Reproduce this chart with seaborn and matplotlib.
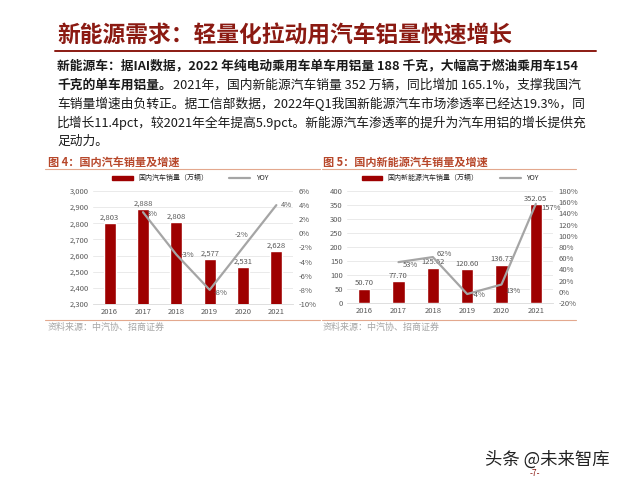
import numpy as np
import pandas as pd
import matplotlib
matplotlib.use("Agg")
import matplotlib.pyplot as plt
import matplotlib.lines as mlines
import matplotlib.patches as mpatches
import seaborn as sns

# data
years = ['2016', '2017', '2018', '2019', '2020', '2021']
car_sales = [2803, 2888, 2808, 2577, 2531, 2628]
car_yoy = [np.nan, 3, -3, -8, -2, 4]
nev_sales = [50.70, 77.70, 125.62, 120.60, 136.73, 352.05]
nev_yoy = [np.nan, 53, 62, -4, 13, 157]

sns.set_theme(style="white")
plt.rcParams['font.family'] = ['Noto Sans CJK SC', 'DejaVu Sans']

RED = '#9E0000'
GRAY_LINE = '#A5A5A5'
TXT = '#595959'
TITLE_RED = '#8B1A12'
SUB_RED = '#B7472A'
SALMON = '#E3A88E'

fig = plt.figure(figsize=(6.4, 4.8), dpi=100)
W, H = 640, 480


def fx(px):
    return px / W


def fy(py):
    return 1 - py / H


# header
fig.text(fx(57), fy(36), '新能源需求：轻量化拉动用汽车铝量快速增长', fontsize=16.4,
         fontweight='bold', color=TITLE_RED, va='center', ha='left')
fig.add_artist(mlines.Line2D([fx(55), fx(596)], [fy(51), fy(51)], color=TITLE_RED, lw=1.4))

body = 9.2
fig.text(fx(57), fy(66), '新能源车：据IAI数据，2022 年纯电动乘用车单车用铝量 188 千克，大幅高于燃油乘用车154',
         fontsize=body, fontweight='bold', color='#1a1a1a', va='center')
t_bold = fig.text(fx(57), fy(85), '千克的单车用铝量。', fontsize=body, fontweight='bold',
                  color='#1a1a1a', va='center')
renderer = fig.canvas.get_renderer()
bb = t_bold.get_window_extent(renderer)
fig.text(bb.x1 / W + 0.002, fy(85), '2021年，国内新能源汽车销量 352 万辆，同比增加 165.1%，支撑我国汽',
         fontsize=body, color='#1a1a1a', va='center')
fig.text(fx(57), fy(104), '车销量增速由负转正。据工信部数据，2022年Q1我国新能源汽车市场渗透率已经达19.3%，同',
         fontsize=body, color='#1a1a1a', va='center')
fig.text(fx(57), fy(123), '比增长11.4pct，较2021年全年提高5.9pct。新能源汽车渗透率的提升为汽车用铝的增长提供充',
         fontsize=body, color='#1a1a1a', va='center')
fig.text(fx(57), fy(141), '足动力。', fontsize=body, color='#1a1a1a', va='center')


def draw_chart(rect, title, tx, line_x, legend_label, sales, yoy, ylim, yticks, y2lim, y2ticks,
               sales_fmt, yoy_offs, legend_x):
    ax = fig.add_axes(rect)
    df = pd.DataFrame({'year': years, 'sales': sales, 'yoy': yoy})
    sns.barplot(data=df, x='year', y='sales', color=RED, width=0.36, ax=ax, saturation=1)
    ax.set_ylim(*ylim)
    ax.set_yticks(yticks)
    ax.set_xlim(-0.5, len(years) - 0.5)
    ax.yaxis.grid(True, color='#E6E6E6', lw=0.6)
    ax.set_axisbelow(True)
    for s in ax.spines.values():
        s.set_visible(False)
    ax.spines['bottom'].set_visible(True)
    ax.spines['bottom'].set_color('#D9D9D9')
    ax.spines['bottom'].set_linewidth(0.6)
    ax.set_xlabel('')
    ax.set_ylabel('')
    ax.tick_params(axis='both', labelsize=5.5, colors=TXT, length=0, pad=3)
    ax.set_yticklabels([sales_fmt(v) for v in yticks])
    for i, v in enumerate(sales):
        lab = f'{v:,}' if isinstance(v, int) else f'{v:.2f}'
        ax.annotate(lab, (i, v), xytext=(0, 1), textcoords='offset points',
                    ha='center', va='bottom', fontsize=5.5, color=TXT)

    ax2 = ax.twinx()
    xs = np.arange(len(years))
    sns.lineplot(x=xs[1:], y=yoy[1:], color=GRAY_LINE, lw=1.6, ax=ax2)
    ax2.set_ylim(*y2lim)
    ax2.set_yticks(y2ticks)
    ax2.set_yticklabels([f'{v}%' for v in y2ticks])
    ax2.tick_params(axis='y', labelsize=5.5, colors=TXT, length=0, pad=4)
    for s in ax2.spines.values():
        s.set_visible(False)
    for i in range(1, len(years)):
        ax2.annotate(f'{yoy[i]}%', (i, yoy[i]), xytext=yoy_offs[i - 1], textcoords='offset points',
                     ha='left', va='center', fontsize=5.5, color=TXT)

    handles = [mpatches.Patch(color=RED, label=legend_label),
               mlines.Line2D([], [], color=GRAY_LINE, lw=1.6, label='YOY')]
    fig.legend(handles=handles, loc='center', bbox_to_anchor=(fx(legend_x), fy(178)), ncol=2,
               frameon=False, fontsize=5, handlelength=3, handleheight=0.5, columnspacing=3)

    fig.text(fx(tx), fy(162), title, fontsize=8, fontweight='bold', color=SUB_RED, va='center')
    fig.add_artist(mlines.Line2D([fx(line_x[0]), fx(line_x[1])], [fy(169), fy(169)],
                                 color=SALMON, lw=0.8))
    fig.add_artist(mlines.Line2D([fx(line_x[0]), fx(line_x[1])], [fy(320), fy(320)],
                                 color=SALMON, lw=0.8))
    fig.text(fx(tx), fy(327), '资料来源：中汽协、招商证券', fontsize=6.5, color='#A6A6A6', va='center')
    return ax, ax2


draw_chart([fx(93), fy(304), fx(200), 113 / H], '图 4：国内汽车销量及增速', 48, (45, 320),
           '国内汽车销量（万辆）', car_sales, car_yoy, (2300, 3000), list(range(2300, 3001, 100)),
           (-10, 6), list(range(-10, 7, 2)), lambda v: f'{int(v):,}',
           [(3, -1), (3, 0), (3, -2), (-6, 9), (3, 0)], 190)

draw_chart([fx(347), fy(303), fx(206), 112 / H], '图 5：国内新能源汽车销量及增速', 323, (322, 576),
           '国内新能源汽车销量（万辆）', nev_sales, nev_yoy, (0, 400), list(range(0, 401, 50)),
           (-20, 180), list(range(-20, 181, 20)), lambda v: f'{int(v)}',
           [(3, -2), (3, 2), (3, -1), (3, -5), (4, -3)], 450)

fig.text(fx(485), fy(460), '头条 @未来智库', fontsize=12.5, color='#222222', va='center')
fig.text(fx(530), fy(473), '-7-', fontsize=6, color=TITLE_RED, va='center')

fig.savefig('out.png', dpi=100)
